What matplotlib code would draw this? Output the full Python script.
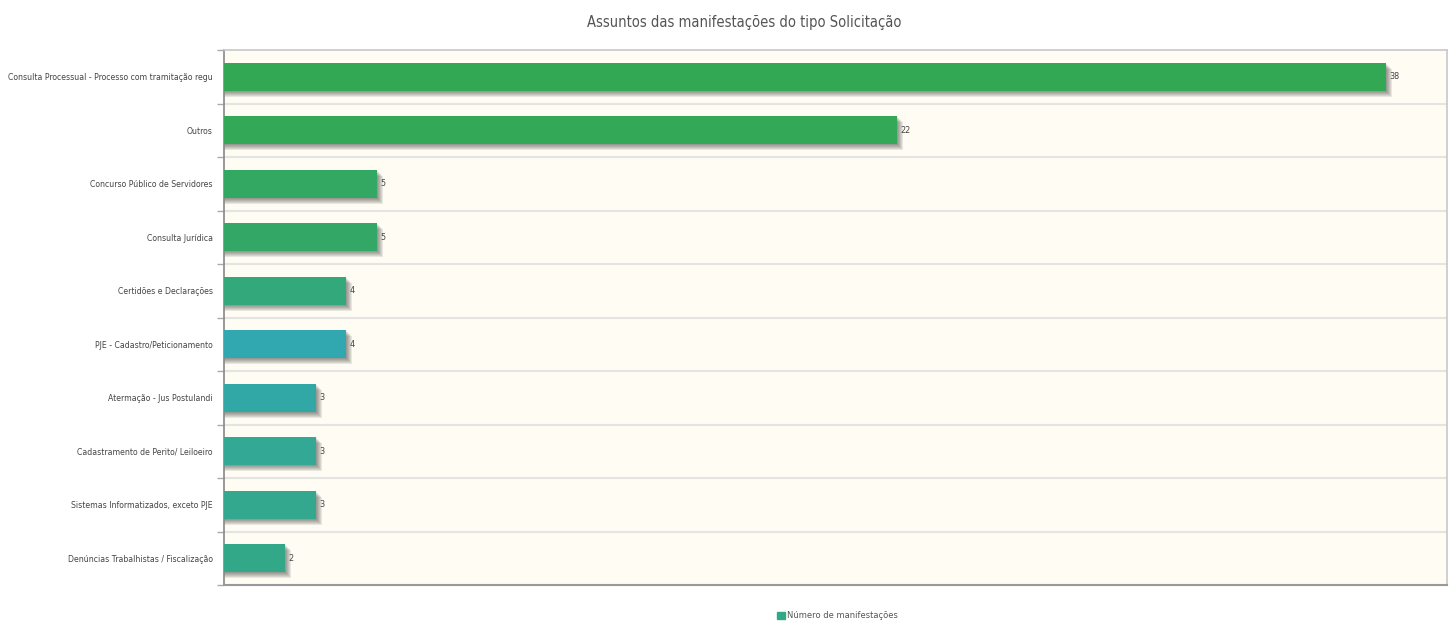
import matplotlib
matplotlib.use("Agg")
import matplotlib.pyplot as plt
from matplotlib.patches import Patch

# dados
categorias = [
    "Consulta Processual - Processo com tramitação regu",
    "Outros",
    "Concurso Público de Servidores",
    "Consulta Jurídica",
    "Certidões e Declarações",
    "PJE - Cadastro/Peticionamento",
    "Atermação - Jus Postulandi",
    "Cadastramento de Perito/ Leiloeiro",
    "Sistemas Informatizados, exceto PJE",
    "Denúncias Trabalhistas / Fiscalização",
]
valores = [38, 22, 5, 5, 4, 4, 3, 3, 3, 2]
cores = ["#33a854", "#33a856", "#33a862", "#33a866", "#33a87a",
         "#31a8b0", "#31a8a6", "#33a894", "#33a88e", "#33a888"]

plt.rcParams["font.family"] = ["DejaVu Sans"]

fig = plt.figure(figsize=(14.5, 6.23), dpi=100)
ax = fig.add_axes([224 / 1450, 1 - 585 / 623, (1447 - 224) / 1450, (585 - 50) / 623])
ax.set_facecolor("#fffcf4")

n = len(categorias)
y = list(range(n))
altura = 0.52

# sombra das barras (deslocada para direita/baixo, em camadas)
px_x = 40 / (1447 - 224)
px_y = n / (585 - 50)
for i, v in enumerate(valores):
    for k in range(1, 7):
        ax.barh(i + k * px_y, v + k * px_x, height=altura, left=0.0,
                color="#3a3a3a", alpha=0.11, zorder=2, linewidth=0)

ax.barh(y, valores, height=altura, color=cores, zorder=3, linewidth=0)

for i, v in enumerate(valores):
    ax.text(v + 0.12, i, str(v), va="center", ha="left", fontsize=6.5,
            color="#444444", fontstretch="condensed", zorder=4)

ax.set_xlim(0, 40)
ax.set_ylim(n - 0.5, -0.5)

# linhas de grade entre as faixas
for b in range(1, n):
    ax.axhline(b - 0.5, color="#e4e4e0", lw=1.5, zorder=1)

ax.set_yticks(y)
ax.set_yticklabels(categorias, fontsize=6.2, color="#444444", fontstretch="condensed")
ax.tick_params(axis="y", length=0, pad=8)
ax.set_yticks([b - 0.5 for b in range(n + 1)], minor=True)
ax.tick_params(axis="y", which="minor", length=5, color="#aaaaaa", width=1)
ax.set_xticks([])

for lado in ["top", "right"]:
    ax.spines[lado].set_color("#c8c8c8")
    ax.spines[lado].set_linewidth(1.2)
ax.spines["left"].set_color("#888888")
ax.spines["left"].set_linewidth(1.2)
ax.spines["bottom"].set_color("#999999")
ax.spines["bottom"].set_linewidth(1.5)

fig.text(744 / 1450, 1 - 22 / 623, "Assuntos das manifestações do tipo Solicitação",
         ha="center", va="center", fontsize=10.5, color="#555555", fontstretch="condensed")

leg = fig.legend(handles=[Patch(color="#33a886", label="Número de manifestações")],
                 loc="center", bbox_to_anchor=(837 / 1450, 1 - 616 / 623),
                 fontsize=6, frameon=False, handlelength=1.0, handleheight=1.0,
                 handletextpad=0.2)
for t in leg.get_texts():
    t.set_color("#555555")

fig.savefig("out.png", dpi=100, facecolor="white")
